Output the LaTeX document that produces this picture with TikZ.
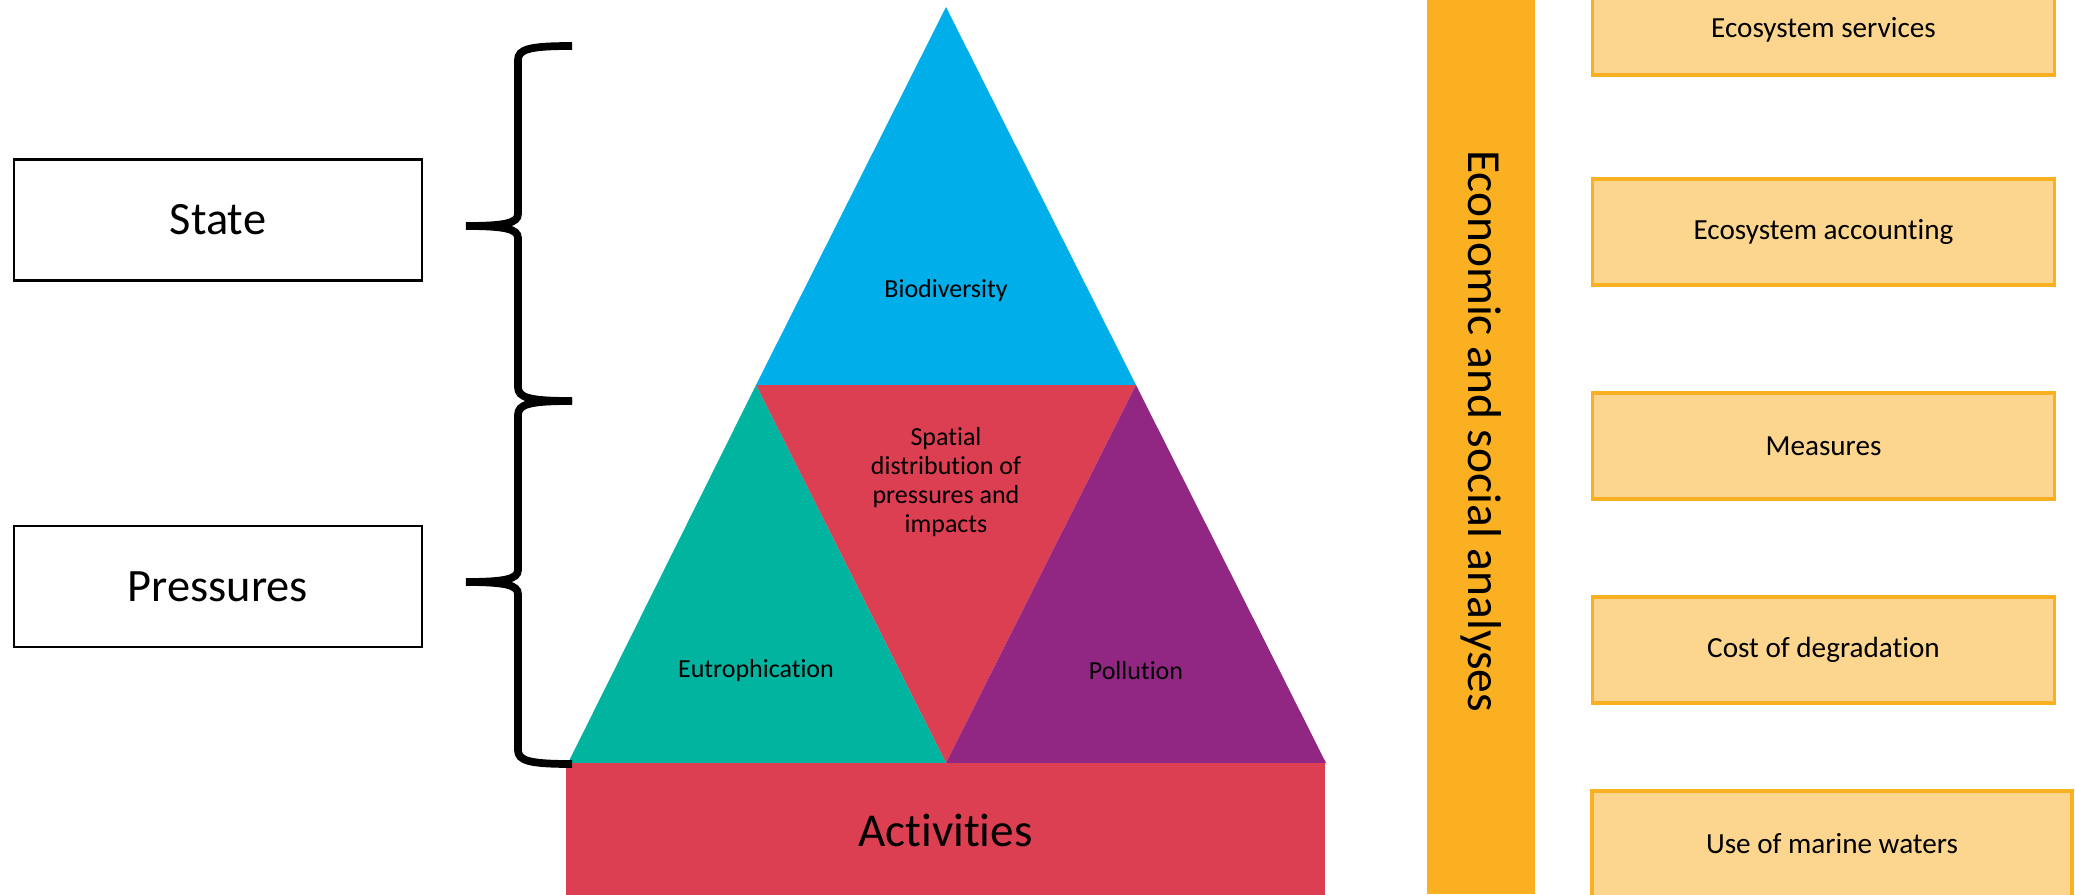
\documentclass[tikz,border=0pt]{standalone}
\usepackage{fontspec}
\setmainfont{Carlito}[Ligatures=NoCommon]
\usepackage{tkz-euclide}
\definecolor{BioClr}{RGB}{0,174,233}
\definecolor{SpatialClr}{RGB}{220,62,82}
\definecolor{EutroClr}{RGB}{0,180,159}
\definecolor{PolluClr}{RGB}{146,39,131}
\definecolor{BarClr}{RGB}{251,176,33}
\definecolor{BoxClr}{RGB}{252,214,143}

\begin{document}
\begin{tikzpicture}[
  statebox/.style={draw,line width=0.8pt,minimum width=4.08cm,minimum height=1.21cm,
    inner sep=0pt,font=\fontsize{13.2}{15}\selectfont},
  servicebox/.style={draw=BarClr,line width=0.9pt,fill=BoxClr,minimum width=4.62cm,
    minimum height=1.06cm,inner sep=0pt,font=\fontsize{8.3}{10}\selectfont},
  tritext/.style={align=center,inner sep=0pt,font=\fontsize{7.4}{8.3}\selectfont},
  bracestyle/.style={line width=2.2pt,black}]
\useasboundingbox (0,0) rectangle (20.75,8.94);

\tkzDefPoints{9.46/8.87/T,7.56/5.09/L,11.36/5.09/R,5.68/1.31/P,9.46/1.31/M,13.26/1.31/Q}

\tkzFillPolygon[fill=BioClr](T,L,R)
\tkzFillPolygon[fill=SpatialClr](L,R,M)
\tkzFillPolygon[fill=EutroClr](L,M,P)
\tkzFillPolygon[fill=PolluClr](R,Q,M)

\node[fill=SpatialClr,minimum width=7.59cm,minimum height=1.34cm,inner sep=0pt,
  font=\fontsize{13.4}{15}\selectfont] (act) at (9.455,0.64) {Activities};

\node[tritext] (bio) at (9.46,6.03) {Biodiversity};
\node[tritext] (spatial) at (9.46,4.12) {Spatial\\distribution of\\pressures and\\impacts};
\node[tritext] (eutro) at (7.56,2.23) {Eutrophication};
\node[tritext] (pollu) at (11.36,2.23) {Pollution};

% state and pressures
\node[statebox] (state) at (2.18,6.74) {State};
\node[statebox] (press) at (2.18,3.075) {Pressures};

\foreach \yt/\ym/\yb in {8.48/6.68/4.93,4.93/3.12/1.30}
  \draw[bracestyle] (5.72,\yt) .. controls (5.30,\yt) and (5.18,\yt-0.03) .. (5.18,\yt-0.14)
    -- (5.18,\ym+0.12) .. controls (5.18,\ym+0.03) and (5.05,\ym) .. (4.66,\ym)
    .. controls (5.05,\ym) and (5.18,\ym-0.03) .. (5.18,\ym-0.12)
    -- (5.18,\yb+0.14) .. controls (5.18,\yb+0.03) and (5.30,\yb) .. (5.72,\yb);

% economic and social analyses
\fill[BarClr] (14.27,0) rectangle (15.35,8.94);
\node[rotate=-90,inner sep=0pt,font=\fontsize{13.5}{15}\selectfont] (econ) at (14.81,4.63)
  {Economic and social analyses};

\node[servicebox,minimum height=0.91cm] (serv) at (18.235,8.645) {Ecosystem services};
\node[servicebox] (acc) at (18.235,6.62) {Ecosystem accounting};
\node[servicebox] (meas) at (18.235,4.48) {Measures};
\node[servicebox] (cost) at (18.235,2.44) {Cost of degradation};
\node[servicebox,minimum width=4.80cm] (use) at (18.32,0.50) {Use of marine waters};

\end{tikzpicture}
\end{document}
